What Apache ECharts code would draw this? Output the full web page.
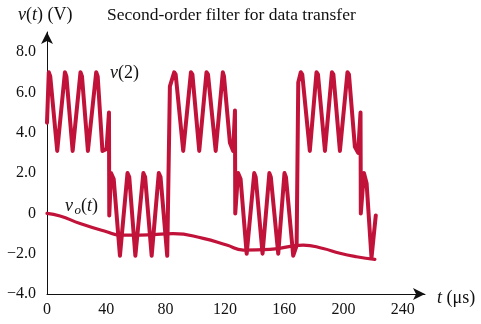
<!DOCTYPE html>
<html><head><meta charset="utf-8">
<script src="https://cdn.jsdelivr.net/npm/echarts/dist/echarts.min.js"></script>
<style>html,body{margin:0;padding:0;background:#fff}#c{width:481px;height:324px}</style>
</head><body><div id="c"></div>
<script>
const xTicks = [0, 40, 80, 120, 160, 200, 240];
const yTicks = [-4, -2, 0, 2, 4, 6, 8];

// v(2): received data signal (time in microseconds, value in volts)
const vTime = [0, 1.2, 2.2, 6.9, 12.1, 13.1, 17.3, 22.6, 23.6, 27.6, 33.2, 34.2, 37.4, 40.2, 41.8, 42.0,
  43.2, 45.0, 49.2, 54.3, 55.5, 59.6, 65.0, 66.2, 70.6, 75.4, 76.6, 81.1, 82.9, 85.8,
  86.8, 91.9, 97.1, 98.1, 102.7, 107.6, 108.6, 113.8, 118.6, 119.4, 123.4, 125.6, 126.8, 127.0,
  128.9, 130.6, 134.7, 139.8, 140.8, 145.4, 150.0, 151.0, 156.0, 160.2, 161.2, 166.1, 168.4, 169.5,
  171.2, 172.2, 177.3, 181.8, 182.8, 187.5, 192.2, 193.2, 197.6, 202.7, 203.7, 207.7, 209.9, 211.5, 211.7,
  213.8, 215.6, 218.9, 221.8];
const vValue = [4.5, 7.0, 6.8, 3.1, 7.0, 6.8, 3.1, 7.0, 6.8, 3.1, 7.0, 6.8, 3.1, 3.2, 5.0, -0.1,
  2.0, 1.7, -2.1, 2.0, 1.8, -2.1, 2.0, 1.8, -2.1, 2.0, 1.8, -2.1, 6.3, 7.0,
  6.9, 3.1, 7.0, 6.9, 3.1, 7.0, 6.9, 3.1, 7.0, 6.8, 3.5, 3.1, 5.1, 0.0,
  2.0, 1.7, -2.0, 2.0, 1.8, -2.0, 2.0, 1.8, -2.0, 2.0, 1.8, -2.1, -1.6, 6.5,
  7.0, 6.9, 3.1, 7.0, 6.9, 3.1, 7.0, 6.9, 3.1, 7.0, 6.9, 3.3, 3.0, 5.0, 0.0,
  2.0, 1.5, -2.2, -0.1];

// vo(t): filter output
const voTime = [0, 8.8, 22.3, 40.2, 49.2, 62.7, 85.2, 105.4, 121.2, 132.4, 150.4, 172.8, 186.3, 197.6, 208.8, 221.2];
const voValue = [0, -0.13, -0.5, -0.91, -1.08, -1.08, -1.0, -1.24, -1.57, -1.82, -1.79, -1.57, -1.74, -1.98, -2.15, -2.28];

const RED = '#C1123A';
const FONT = '"Liberation Serif", "DejaVu Serif", serif';
const INK = '#111';

const vData = vTime.map((t, i) => [t, vValue[i]]);
const voData = voTime.map((t, i) => [t, voValue[i]]);

const chart = echarts.init(document.getElementById('c'), null, {renderer: 'canvas'});
function rich(size) {
  return {
    i: {fontStyle: 'italic', fontFamily: FONT, fontSize: size, fill: INK, color: INK},
    n: {fontStyle: 'normal', fontFamily: FONT, fontSize: size, fill: INK, color: INK}
  };
}
function txt(x, y, text, size) {
  size = size || 17;
  return {type: 'text', x: x, y: y, silent: true,
    style: {text: text, font: size + 'px ' + FONT, fill: INK, verticalAlign: 'middle', align: 'left',
      rich: rich(size)}};
}
chart.setOption({
  animation: false,
  grid: {left: 47, right: 56, top: 32, bottom: 30, containLabel: false, outerBoundsMode: 'none'},
  xAxis: {
    type: 'value', min: 0, max: 255, interval: 40,
    axisLine: {show: true, onZero: false, symbol: ['none', 'arrow'], symbolSize: [9, 12],
      lineStyle: {color: INK, width: 1}},
    axisTick: {show: false}, splitLine: {show: false},
    axisLabel: {fontFamily: FONT, fontSize: 16, color: INK, margin: 8,
      formatter: v => xTicks.includes(v) ? String(v) : ''}
  },
  yAxis: {
    type: 'value', min: -4, max: 9, interval: 2,
    axisLine: {show: true, onZero: false, symbol: ['none', 'arrow'], symbolSize: [9, 12],
      lineStyle: {color: INK, width: 1}},
    axisTick: {show: false}, splitLine: {show: false},
    axisLabel: {fontFamily: FONT, fontSize: 16, color: INK, margin: 11,
      formatter: v => yTicks.includes(v) ? (v === 0 ? '0' : (v < 0 ? '\u2212' + Math.abs(v).toFixed(1) : v.toFixed(1))) : ''}
  },
  series: [
    {type: 'line', data: vData, showSymbol: false, smooth: false, clip: false,
      lineStyle: {color: RED, width: 4, cap: 'round', join: 'round'}},
    {type: 'line', data: voData, showSymbol: false, smooth: 0.5, clip: false,
      lineStyle: {color: RED, width: 3.2, cap: 'round', join: 'round'}}
  ],
  graphic: [
    txt(18, 15, '{i|v}{n|(}{i|t}{n|) (V)}', 18),
    txt(107, 15, 'Second-order filter for data transfer', 17.5),
    txt(110, 73, '{i|v}{n|(2)}', 18),
    txt(65, 206, '{i|v}', 18),
    {type: 'text', x: 74.5, y: 211, silent: true, style: {text: 'o', font: 'italic 13px ' + FONT, fill: INK, verticalAlign: 'middle'}},
    txt(81, 206, '{n|(}{i|t}{n|)}', 18),
    txt(437, 298, '{i|t}{n| (\u03bcs)}', 18)
  ]
});
</script></body></html>
